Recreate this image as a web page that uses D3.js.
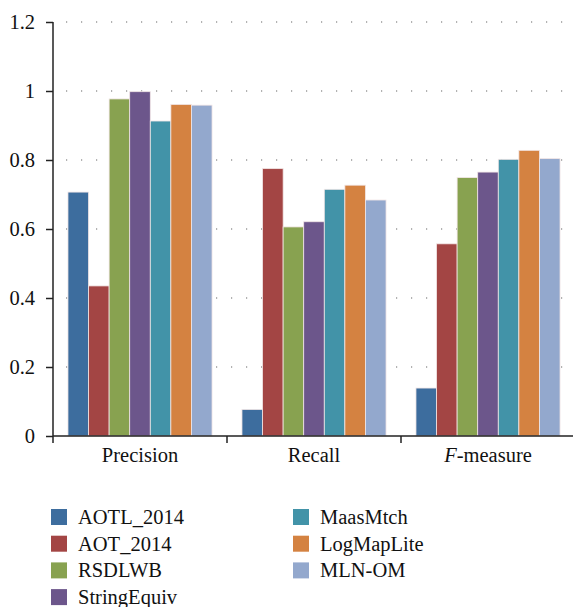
<!DOCTYPE html>
<html>
<head>
<meta charset="utf-8">
<script src="https://cdn.jsdelivr.net/npm/d3@7"></script>
<style>
  body { margin: 0; background: #fff; }
  svg text { font-family: "Liberation Serif", "DejaVu Serif", serif; fill: #111; }
</style>
</head>
<body>
<div id="chart"></div>
<script>
//////////////////////////// data /////////////////////////////////////////

const categories = ["Precision", "Recall", "F-measure"];
const systems = ["AOTL_2014", "AOT_2014", "RSDLWB", "StringEquiv", "MaasMtch", "LogMapLite", "MLN-OM"];

const aotl2014 = [0.707, 0.077, 0.139];
const aot2014 = [0.435, 0.775, 0.557];
const rsdlwb = [0.977, 0.606, 0.749];
const stringEquiv = [0.998, 0.621, 0.765];
const maasMtch = [0.913, 0.715, 0.802];
const logMapLite = [0.961, 0.727, 0.828];
const mlnOm = [0.959, 0.684, 0.804];

const yTicks = [0, 0.2, 0.4, 0.6, 0.8, 1, 1.2];
const colors = ["#3d6d9e", "#a34544", "#88a250", "#6c568b", "#4293a8", "#d48241", "#93a8cd"];

const series = [aotl2014, aot2014, rsdlwb, stringEquiv, maasMtch, logMapLite, mlnOm];

//////////////////////////// sizes ///////////////////////////////////////

const width = 573, height = 607;
const margin = { top: 22, right: 0, bottom: 171, left: 53 };
const boundedWidth = width - margin.left - margin.right;
const boundedHeight = height - margin.top - margin.bottom;
const fontSize = 20.5;

const svg = d3.select("#chart").append("svg")
  .attr("width", width)
  .attr("height", height);

const bounds = svg.append("g")
  .attr("transform", `translate(${margin.left},${margin.top})`);

//////////////////////////// scales ///////////////////////////////////////

const xScale = d3.scaleBand()
  .domain(categories)
  .range([0, 522])
  .paddingInner(0.172)
  .paddingOuter(0.086);

const innerScale = d3.scaleBand()
  .domain(systems)
  .range([0, xScale.bandwidth()]);

const yScale = d3.scaleLinear()
  .domain([0, 1.2])
  .range([boundedHeight, 0]);

const cScale = d3.scaleOrdinal().domain(systems).range(colors);

//////////////////////////// grid /////////////////////////////////////////

bounds.append("g")
  .selectAll("line")
  .data(yTicks.filter(d => d > 0))
  .join("line")
  .attr("x1", 0)
  .attr("x2", boundedWidth)
  .attr("y1", d => yScale(d))
  .attr("y2", d => yScale(d))
  .attr("stroke", "#666")
  .attr("stroke-width", 1.2)
  .attr("stroke-dasharray", "1.2 13.8")
  .attr("stroke-dashoffset", -13);

//////////////////////////// bars /////////////////////////////////////////

const tidy = [];
categories.forEach((c, i) => {
  systems.forEach((s, j) => {
    tidy.push({ category: c, system: s, value: series[j][i] });
  });
});

bounds.append("g")
  .selectAll("rect")
  .data(tidy)
  .join("rect")
  .attr("x", d => xScale(d.category) + innerScale(d.system))
  .attr("y", d => yScale(d.value))
  .attr("width", innerScale.bandwidth())
  .attr("height", d => boundedHeight - yScale(d.value))
  .attr("fill", d => cScale(d.system))
  .attr("stroke", "#f2e6e6")
  .attr("stroke-width", 0.8);

//////////////////////////// axes /////////////////////////////////////////

const yAxis = bounds.append("g")
  .call(d3.axisLeft(yScale).tickValues(yTicks).tickFormat(d3.format("~g")).tickSize(7).tickPadding(11));

yAxis.attr("font-family", null).attr("font-size", null);
yAxis.select(".domain").attr("d", `M0,0V${boundedHeight + 7}`).attr("stroke", "#222").attr("stroke-width", 1.5);
yAxis.selectAll(".tick line").attr("stroke", "#222").attr("stroke-width", 1.5);
yAxis.selectAll("text").attr("font-size", fontSize).attr("fill", "#111");

const xAxisG = bounds.append("g")
  .attr("transform", `translate(0,${boundedHeight})`);

xAxisG.append("line")
  .attr("x1", 0).attr("x2", boundedWidth)
  .attr("stroke", "#222").attr("stroke-width", 1.5);

// separators between groups
xAxisG.selectAll(".sep")
  .data(categories.slice(1))
  .join("line")
  .attr("class", "sep")
  .attr("x1", d => xScale(d) - xScale.step() * xScale.paddingInner() / 2)
  .attr("x2", d => xScale(d) - xScale.step() * xScale.paddingInner() / 2)
  .attr("y1", 0).attr("y2", 7)
  .attr("stroke", "#222").attr("stroke-width", 1.5);

const catLabels = xAxisG.selectAll(".cat")
  .data(categories)
  .join("text")
  .attr("class", "cat")
  .attr("x", d => xScale(d) + xScale.bandwidth() / 2)
  .attr("y", 26)
  .attr("text-anchor", "middle")
  .attr("font-size", fontSize);

catLabels.each(function (d) {
  const t = d3.select(this);
  if (d === "F-measure") {
    t.append("tspan").attr("font-style", "italic").text("F");
    t.append("tspan").text("-measure");
  } else {
    t.text(d);
  }
});

//////////////////////////// legend ///////////////////////////////////////

const legend = svg.append("g");

const items = legend.selectAll("g")
  .data(systems)
  .join("g")
  .attr("transform", (d, i) => {
    const col = i < 4 ? 0 : 1;
    const row = i < 4 ? i : i - 4;
    return `translate(${51 + col * 242},${509 + row * 26.7})`;
  });

items.append("rect")
  .attr("width", 16)
  .attr("height", 16)
  .attr("fill", d => cScale(d));

items.append("text")
  .attr("x", 27)
  .attr("y", 15)
  .attr("font-size", fontSize)
  .text(d => d);
</script>
</body>
</html>
